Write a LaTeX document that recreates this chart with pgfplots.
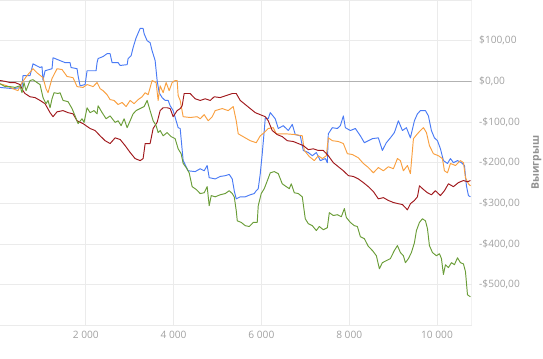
\documentclass[border=0pt]{standalone}
\usepackage{pgfplots}
\pgfplotsset{compat=1.18}
\usepackage{fontspec}
\setmainfont{Open Sans}
\definecolor{cblue}{HTML}{4A7BF5}
\definecolor{corange}{HTML}{F9A040}
\definecolor{cred}{HTML}{A0181C}
\definecolor{cgreen}{HTML}{6A9D38}
\definecolor{tickgray}{HTML}{A0A0A0}
\definecolor{gridgray}{HTML}{EBEBEB}
\begin{document}
\begin{tikzpicture}
\useasboundingbox (0,0) rectangle (543bp,359bp);
\begin{axis}[
  at={(0bp,33.7bp)}, anchor=south west,
  scale only axis, width=471.7bp, height=325.3bp,
  xmin=46, xmax=10790, ymin=-600, ymax=200,
  scaled x ticks=false, scaled y ticks=false,
  axis line style={draw=none},
  major tick length=0pt,
  xtick={2000,4000,6000,8000,10000},
  xticklabels={2 000,4 000,6 000,8 000,10 000},
  ytick={-600,-500,-400,-300,-200,-100,0,100,200},
  yticklabels={{},{-\$500,00},{-\$400,00},{-\$300,00},{-\$200,00},{-\$100,00},{\$0,00},{\$100,00},{}},
  yticklabel pos=right,
  grid=major,
  major grid style={draw=gridgray, line width=0.8pt},
  tick label style={font=\fontsize{10.2}{12}\selectfont, text=tickgray},
  yticklabel style={anchor=west, xshift=4bp},
  xticklabel style={yshift=-2bp},
  ylabel={\bfseries Выигрыш},
  ylabel style={at={(axis description cs:1.137,0.5)}, anchor=center, rotate=0, font=\fontsize{10.5}{12}\selectfont, text=tickgray!90!black},
  clip=true,
  every axis plot/.append style={line width=0.95pt, line join=round},
]
\draw[gridgray, line width=0.8pt] (rel axis cs:1,0) -- (rel axis cs:1,1);
\draw[black!30, line width=1.2pt] (rel axis cs:0,0.75) -- (rel axis cs:1,0.75);
% blue
\addplot[cblue] coordinates {
(46,-15)(342,-18)(547,-15)(570,14)(730,14)(798,43)(958,34)(1003,36)(1026,2)(1072,26)(1231,31)(1254,58)(1414,51)(1528,46)(1642,46)(1664,34)(1801,31)(1824,14)(1870,-11)(1984,-8)(2029,26)(2234,26)(2257,46)(2280,56)(2394,61)(2485,68)(2554,68)(2599,46)(2736,46)(2782,39)(2942,41)(2964,56)(3033,63)(3078,83)(3146,107)(3238,130)(3306,130)(3329,117)(3397,100)(3465,95)(3511,75)(3580,51)(3625,2)(3671,-28)(3739,-40)(3808,-47)(3876,-47)(3922,-60)(3990,-72)(4058,-97)(4104,-114)(4150,-116)(4218,-195)(4264,-205)(4332,-220)(4492,-222)(4606,-215)(4697,-220)(4765,-207)(4811,-237)(4948,-240)(5062,-234)(5176,-232)(5267,-229)(5336,-240)(5381,-269)(5427,-289)(5518,-284)(5632,-284)(5746,-279)(5837,-276)(5882,-269)(5928,-264)(5974,-227)(6019,-178)(6065,-121)(6088,-90)(6156,-92)(6202,-77)(6315,-92)(6384,-116)(6498,-109)(6612,-121)(6703,-106)(6772,-131)(6886,-134)(6954,-170)(7068,-175)(7160,-183)(7251,-175)(7342,-195)(7456,-190)(7502,-200)(7524,-129)(7616,-114)(7730,-116)(7798,-109)(7867,-85)(7912,-114)(8026,-121)(8140,-116)(8254,-134)(8345,-151)(8436,-146)(8528,-141)(8664,-139)(8755,-170)(8846,-151)(8938,-139)(9029,-126)(9120,-97)(9212,-121)(9303,-114)(9394,-139)(9485,-97)(9554,-80)(9622,-72)(9736,-72)(9804,-85)(9872,-121)(9941,-139)(10010,-146)(10078,-166)(10146,-195)(10238,-202)(10306,-190)(10374,-200)(10466,-195)(10557,-200)(10625,-207)(10670,-257)(10716,-281)(10762,-284)
};
% orange
\addplot[corange] coordinates {
(46,-6)(205,-11)(342,-18)(456,-23)(547,-3)(661,14)(798,31)(889,21)(1026,9)(1094,-18)(1140,-28)(1231,7)(1345,31)(1459,29)(1573,12)(1710,9)(1801,-13)(1938,-15)(2029,-8)(2166,-13)(2257,-3)(2326,-18)(2394,-23)(2485,-33)(2554,-45)(2645,-47)(2736,-57)(2827,-52)(2918,-62)(3010,-47)(3101,-55)(3192,-45)(3283,-38)(3352,-28)(3420,-33)(3511,2)(3602,-3)(3648,-47)(3694,-11)(3762,-28)(3830,-3)(3899,-23)(3967,-3)(4035,2)(4081,2)(4104,-35)(4150,-47)(4218,-87)(4378,-89)(4537,-87)(4606,-92)(4697,-82)(4788,-97)(4880,-87)(4948,-72)(5108,-67)(5244,-72)(5358,-62)(5427,-97)(5472,-129)(5632,-139)(5746,-146)(5882,-151)(5974,-134)(6065,-126)(6156,-116)(6270,-114)(6338,-129)(6544,-129)(6772,-131)(6931,-134)(6977,-170)(7091,-185)(7205,-195)(7296,-183)(7388,-190)(7479,-183)(7524,-139)(7616,-146)(7752,-148)(7867,-153)(7958,-178)(8072,-180)(8208,-188)(8322,-202)(8436,-212)(8550,-225)(8664,-212)(8778,-220)(8892,-210)(9006,-215)(9098,-190)(9166,-195)(9234,-220)(9326,-207)(9394,-227)(9463,-141)(9554,-129)(9622,-121)(9691,-114)(9759,-126)(9827,-158)(9918,-178)(10032,-183)(10123,-190)(10169,-220)(10238,-225)(10306,-202)(10420,-207)(10534,-195)(10602,-200)(10648,-237)(10716,-252)(10762,-257)
};
% dark red
\addplot[cred] coordinates {
(46,2)(160,0)(274,-3)(388,-3)(502,-8)(570,-23)(616,-30)(730,-38)(844,-40)(958,-47)(1072,-55)(1186,-77)(1254,-87)(1345,-75)(1482,-72)(1596,-77)(1710,-80)(1801,-97)(1938,-104)(2098,-116)(2212,-121)(2326,-134)(2440,-146)(2554,-153)(2668,-139)(2782,-143)(2896,-158)(3010,-175)(3124,-190)(3238,-195)(3306,-190)(3352,-153)(3465,-153)(3534,-116)(3625,-101)(3694,-72)(3762,-65)(3853,-65)(3922,-67)(3990,-87)(4081,-72)(4150,-67)(4195,-60)(4241,-30)(4378,-30)(4492,-43)(4606,-47)(4720,-43)(4834,-47)(4925,-38)(5062,-40)(5199,-35)(5336,-30)(5427,-30)(5518,-47)(5632,-57)(5746,-67)(5860,-77)(5974,-82)(6088,-87)(6156,-97)(6247,-121)(6361,-131)(6475,-136)(6589,-146)(6726,-148)(6840,-153)(6954,-158)(7068,-168)(7182,-166)(7296,-170)(7410,-170)(7524,-183)(7638,-200)(7752,-210)(7867,-220)(7981,-232)(8095,-234)(8208,-240)(8322,-249)(8436,-259)(8550,-271)(8664,-289)(8778,-286)(8892,-293)(9006,-298)(9120,-301)(9212,-303)(9326,-316)(9394,-301)(9485,-293)(9554,-284)(9600,-257)(9691,-266)(9782,-274)(9872,-279)(9964,-269)(10078,-281)(10169,-269)(10260,-252)(10374,-259)(10488,-249)(10602,-244)(10694,-247)(10762,-244)
};
% green
\addplot[cgreen] coordinates {
(46,-6)(160,-13)(274,-13)(388,-15)(502,-11)(547,-28)(593,-3)(639,-23)(730,2)(798,4)(889,-3)(958,-8)(1026,-40)(1094,-55)(1140,-47)(1186,-65)(1231,-43)(1277,-28)(1368,-30)(1414,-28)(1482,-47)(1596,-50)(1687,-67)(1756,-85)(1824,-104)(1915,-92)(1961,-101)(2029,-65)(2098,-77)(2189,-72)(2257,-80)(2280,-60)(2372,-77)(2463,-92)(2554,-85)(2668,-101)(2736,-97)(2805,-109)(2873,-92)(2942,-114)(3010,-97)(3078,-80)(3146,-72)(3238,-67)(3329,-62)(3397,-47)(3465,-72)(3534,-97)(3602,-109)(3648,-126)(3694,-121)(3762,-134)(3853,-126)(3945,-136)(4035,-141)(4104,-166)(4172,-178)(4218,-202)(4286,-212)(4355,-225)(4423,-259)(4515,-266)(4606,-276)(4697,-274)(4765,-259)(4811,-306)(4857,-281)(4948,-284)(5062,-279)(5176,-276)(5267,-269)(5336,-276)(5381,-284)(5427,-318)(5450,-343)(5541,-347)(5632,-355)(5723,-357)(5814,-347)(5905,-347)(5928,-306)(5996,-276)(6065,-264)(6133,-245)(6202,-225)(6293,-222)(6384,-227)(6475,-252)(6566,-259)(6635,-264)(6680,-252)(6749,-274)(6840,-276)(6931,-284)(6999,-338)(7068,-350)(7160,-355)(7251,-367)(7319,-357)(7410,-365)(7502,-360)(7547,-323)(7638,-330)(7730,-328)(7821,-333)(7889,-313)(7935,-335)(8026,-347)(8117,-355)(8186,-357)(8254,-382)(8345,-387)(8436,-406)(8528,-416)(8619,-429)(8687,-461)(8755,-446)(8846,-441)(8938,-436)(9029,-416)(9098,-404)(9166,-421)(9234,-429)(9280,-446)(9349,-436)(9417,-421)(9485,-397)(9531,-367)(9600,-347)(9668,-338)(9736,-343)(9782,-362)(9827,-404)(9896,-421)(9987,-429)(10055,-424)(10101,-436)(10146,-475)(10192,-451)(10260,-458)(10329,-446)(10397,-451)(10466,-434)(10534,-446)(10602,-449)(10648,-468)(10694,-525)(10762,-530)
};
\end{axis}
\end{tikzpicture}
\end{document}
